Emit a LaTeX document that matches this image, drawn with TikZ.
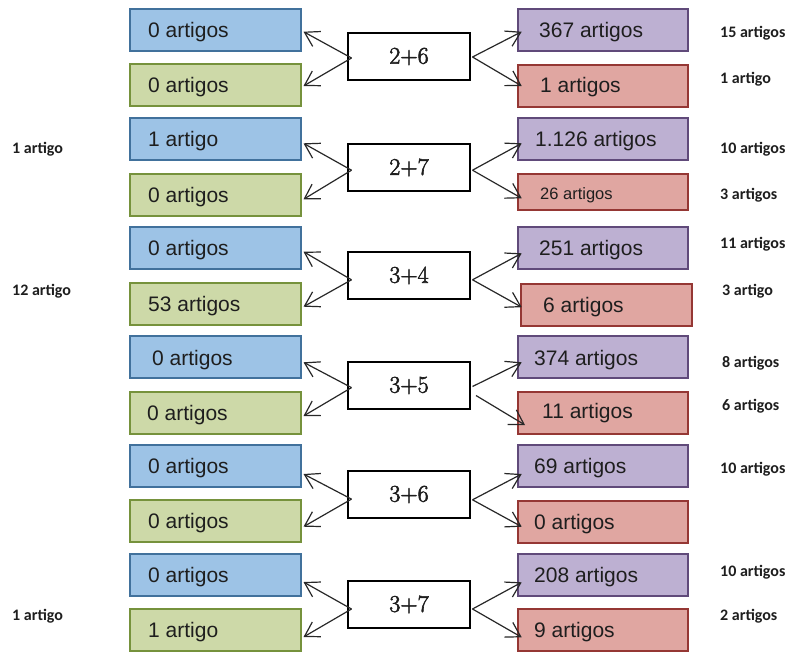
\documentclass[tikz,border=0pt]{standalone}
\usepackage{fontspec}
\newfontfamily\arialf{Liberation Sans}
\newfontfamily\calf{Carlito}
\newfontfamily\sumf{Latin Modern Roman}[FakeBold=2.4]
\usetikzlibrary{arrows.meta,calc}
\definecolor{bluef}{RGB}{157,195,230}
\definecolor{blued}{RGB}{65,113,156}
\definecolor{greenf}{RGB}{205,217,168}
\definecolor{greend}{RGB}{118,146,60}
\definecolor{purplef}{RGB}{189,176,210}
\definecolor{purpled}{RGB}{96,74,122}
\definecolor{redf}{RGB}{224,166,161}
\definecolor{redd}{RGB}{149,55,52}
\definecolor{txtc}{RGB}{30,30,30}
\definecolor{arrc}{RGB}{40,40,40}
\begin{document}
\begin{tikzpicture}[x=1pt,y=-1pt,
 box/.style={draw, line width=1.3pt, anchor=north west, minimum height=42pt, inner sep=0pt, outer sep=0pt},
 lbox/.style={box, minimum width=171pt},
 rbox/.style={box, minimum width=170pt},
 bluebox/.style={lbox, fill=bluef, draw=blued},
 greenbox/.style={lbox, fill=greenf, draw=greend},
 purplebox/.style={rbox, fill=purplef, draw=purpled},
 redbox/.style={rbox, fill=redf, draw=redd},
 sumbox/.style={draw=black, line width=1.3pt, fill=white, anchor=north west, minimum width=122pt, minimum height=47pt, inner sep=0pt, outer sep=0pt, font=\sumf\fontsize{24}{27}\selectfont, text=txtc},
 txt/.style={anchor=base west, inner sep=0pt, font=\arialf\fontsize{21}{24}\selectfont, text=txtc},
 smalltxt/.style={txt, font=\arialf\fontsize{16.5}{19}\selectfont},
 side/.style={anchor=base west, inner sep=0pt, font=\calf\bfseries\fontsize{16}{19}\selectfont, text=txtc},
 arr/.style={-{Straight Barb[length=14pt,width=17pt]}, line width=1.2pt, draw=arrc},
]
\useasboundingbox (0,0) rectangle (795,651);
\fill[white] (0,0) rectangle (795,651);

% ---------- group 1 ----------
\node[bluebox] (b1) at (130,9) {};
\node[greenbox] (g1) at (130,64) {};
\node[sumbox] (c1) at (348,33) {2+6};
\node[purplebox] (p1) at (518,9) {};
\node[redbox] (r1) at (518,65) {};
\node[txt] (tb1) at ([xshift=18pt,yshift=-7pt]b1.west) {0 artigos};
\node[txt] (tg1) at ([xshift=18pt,yshift=-7pt]g1.west) {0 artigos};
\node[txt] (tp1) at ([xshift=21pt,yshift=-7pt]p1.west) {367 artigos};
\node[txt] (tr1) at ([xshift=22pt,yshift=-6.5pt]r1.west) {1 artigos};
\draw[arr] ([xshift=3.5pt,yshift=-1.5pt]c1.west) -- ([xshift=2.5pt,yshift=-1.7pt]b1.east);
\draw[arr] ([xshift=3.5pt,yshift=-1.5pt]c1.west) -- ([xshift=2.5pt,yshift=-1pt]g1.east);
\draw[arr] ([xshift=2.5pt,yshift=-0.5pt]c1.east) -- ([xshift=3.7pt,yshift=-1.7pt]p1.west);
\draw[arr] ([xshift=2.5pt,yshift=-0.5pt]c1.east) -- ([xshift=3.7pt,yshift=0pt]r1.west);

% ---------- group 2 ----------
\node[bluebox] (b2) at (130,118) {};
\node[greenbox] (g2) at (130,174) {};
\node[sumbox] (c2) at (348,144) {2+7};
\node[purplebox] (p2) at (518,118) {};
\node[redbox, minimum height=36pt] (r2) at (518,174) {};
\node[txt] (tb2) at ([xshift=18pt,yshift=-7pt]b2.west) {1 artigo};
\node[txt] (tg2) at ([xshift=18pt,yshift=-7pt]g2.west) {0 artigos};
\node[txt] (tp2) at ([xshift=17pt,yshift=-7pt]p2.west) {1.126 artigos};
\node[smalltxt] (tr2) at ([xshift=22pt,yshift=-7pt]r2.west) {26 artigos};
\draw[arr] ([xshift=3.5pt,yshift=-2.7pt]c2.west) -- ([xshift=2.5pt,yshift=-4.3pt]b2.east);
\draw[arr] ([xshift=3.5pt,yshift=-2.7pt]c2.west) -- ([xshift=2.5pt,yshift=-4.3pt]g2.east);
\draw[arr] ([xshift=2.5pt,yshift=-2.7pt]c2.east) -- ([xshift=3.7pt,yshift=-4.3pt]p2.west);
\draw[arr] ([xshift=2.5pt,yshift=-2.7pt]c2.east) -- ([xshift=3.7pt,yshift=-6.3pt]r2.west);

% ---------- group 3 ----------
\node[bluebox] (b3) at (130,227) {};
\node[greenbox] (g3) at (130,283) {};
\node[sumbox] (c3) at (348,252) {3+4};
\node[purplebox] (p3) at (518,227) {};
\node[redbox, minimum width=171pt] (r3) at (521,284) {};
\node[txt] (tb3) at ([xshift=18pt,yshift=-7pt]b3.west) {0 artigos};
\node[txt] (tg3) at ([xshift=18pt,yshift=-7pt]g3.west) {53 artigos};
\node[txt] (tp3) at ([xshift=21pt,yshift=-7pt]p3.west) {251 artigos};
\node[txt] (tr3) at ([xshift=22pt,yshift=-7.2pt]r3.west) {6 artigos};
\draw[arr] ([xshift=3.5pt,yshift=-4.3pt]c3.west) -- ([xshift=2.5pt,yshift=-3.7pt]b3.east);
\draw[arr] ([xshift=3.5pt,yshift=-4.3pt]c3.west) -- ([xshift=2.5pt,yshift=-2.7pt]g3.east);
\draw[arr] ([xshift=2.5pt,yshift=-4.3pt]c3.east) -- ([xshift=3.7pt,yshift=-5.3pt]p3.west);
\draw[arr] ([xshift=2.5pt,yshift=-4.3pt]c3.east) -- ([xshift=0.7pt,yshift=-2.2pt]r3.west);

% ---------- group 4 ----------
\node[bluebox] (b4) at (130,336) {};
\node[greenbox] (g4) at (130,392) {};
\node[sumbox] (c4) at (348,362) {3+5};
\node[purplebox] (p4) at (518,336) {};
\node[redbox] (r4) at (518,392) {};
\node[txt] (tb4) at ([xshift=22pt,yshift=-8pt]b4.west) {0 artigos};
\node[txt] (tg4) at ([xshift=17pt,yshift=-7pt]g4.west) {0 artigos};
\node[txt] (tp4) at ([xshift=16pt,yshift=-8pt]p4.west) {374 artigos};
\node[txt] (tr4) at ([xshift=24pt,yshift=-5.5pt]r4.west) {11 artigos};
\draw[arr] ([xshift=3.5pt,yshift=-2.1pt]c4.west) -- ([xshift=2.5pt,yshift=-5.3pt]b4.east);
\draw[arr] ([xshift=3.5pt,yshift=-2.1pt]c4.west) -- ([xshift=2.5pt,yshift=-3pt]g4.east);
\draw[arr] ([xshift=2.5pt,yshift=-1pt]c4.east) -- ([xshift=3.7pt,yshift=-5.3pt]p4.west);
\draw[arr] ([xshift=6pt,yshift=-10pt]c4.east) -- ([xshift=7pt,yshift=-12pt]r4.west);

% ---------- group 5 ----------
\node[bluebox] (b5) at (130,445) {};
\node[greenbox] (g5) at (130,500) {};
\node[sumbox] (c5) at (348,471) {3+6};
\node[purplebox] (p5) at (518,445) {};
\node[redbox] (r5) at (518,501) {};
\node[txt] (tb5) at ([xshift=18pt,yshift=-7pt]b5.west) {0 artigos};
\node[txt] (tg5) at ([xshift=18pt,yshift=-7pt]g5.west) {0 artigos};
\node[txt] (tp5) at ([xshift=16pt,yshift=-7pt]p5.west) {69 artigos};
\node[txt] (tr5) at ([xshift=16pt,yshift=-7pt]r5.west) {0 artigos};
\draw[arr] ([xshift=3.5pt,yshift=-4.6pt]c5.west) -- ([xshift=2.5pt,yshift=-8pt]b5.east);
\draw[arr] ([xshift=3.5pt,yshift=-4.6pt]c5.west) -- ([xshift=2.5pt,yshift=-5.7pt]g5.east);
\draw[arr] ([xshift=2.5pt,yshift=-5.3pt]c5.east) -- ([xshift=3.7pt,yshift=-8pt]p5.west);
\draw[arr] ([xshift=2.5pt,yshift=-5.3pt]c5.east) -- ([xshift=3.7pt,yshift=-4.7pt]r5.west);

% ---------- group 6 ----------
\node[bluebox] (b6) at (130,554) {};
\node[greenbox] (g6) at (130,609) {};
\node[sumbox] (c6) at (348,581) {3+7};
\node[purplebox] (p6) at (518,554) {};
\node[redbox] (r6) at (518,609) {};
\node[txt] (tb6) at ([xshift=18pt,yshift=-7pt]b6.west) {0 artigos};
\node[txt] (tg6) at ([xshift=18pt,yshift=-7pt]g6.west) {1 artigo};
\node[txt] (tp6) at ([xshift=16pt,yshift=-7pt]p6.west) {208 artigos};
\node[txt] (tr6) at ([xshift=16pt,yshift=-7pt]r6.west) {9 artigos};
\draw[arr] ([xshift=3.5pt,yshift=-4.5pt]c6.west) -- ([xshift=2.5pt,yshift=-7pt]b6.east);
\draw[arr] ([xshift=3.5pt,yshift=-4.5pt]c6.west) -- ([xshift=2.5pt,yshift=-7pt]g6.east);
\draw[arr] ([xshift=2.5pt,yshift=-4.5pt]c6.east) -- ([xshift=3.7pt,yshift=-7.3pt]p6.west);
\draw[arr] ([xshift=2.5pt,yshift=-4.5pt]c6.east) -- ([xshift=3.7pt,yshift=-7.3pt]r6.west);

% ---------- side labels ----------
\node[side] (s1) at (720,37.3) {15 artigos};
\node[side] (s2) at (720,83) {1 artigo};
\node[side] (s3) at (720,153) {10 artigos};
\node[side] (s4) at (720,199) {3 artigos};
\node[side] (s5) at (720,248) {11 artigos};
\node[side] (s6) at (722,295) {3 artigo};
\node[side] (s7) at (722,367) {8 artigos};
\node[side] (s8) at (722,410) {6 artigos};
\node[side] (s9) at (720,473) {10 artigos};
\node[side] (s10) at (720,576) {10 artigos};
\node[side] (s11) at (720,620) {2 artigos};
\node[side] (l1) at (12,153) {1 artigo};
\node[side] (l2) at (12,295) {12 artigo};
\node[side] (l3) at (12,620) {1 artigo};
\end{tikzpicture}
\end{document}
